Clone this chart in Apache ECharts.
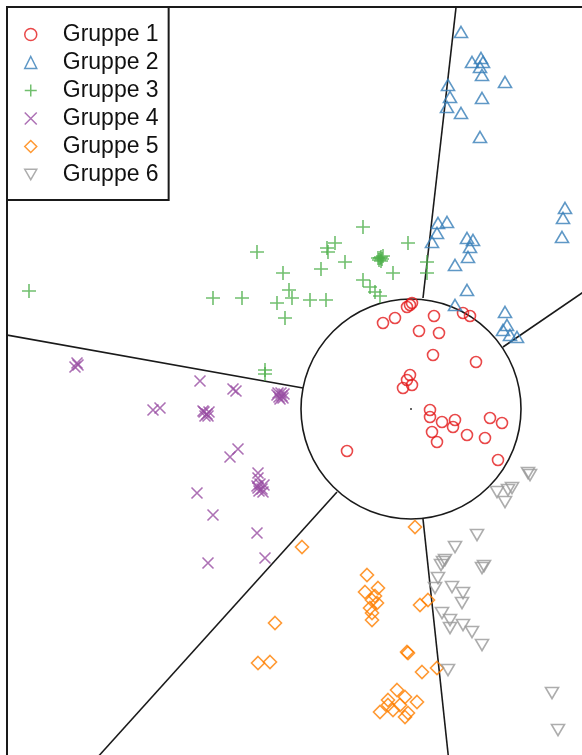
<!DOCTYPE html>
<html>
<head>
<meta charset="utf-8">
<script src="https://cdn.jsdelivr.net/npm/echarts@6/dist/echarts.min.js"></script>
<style>
  html, body { margin: 0; padding: 0; background: #fff; overflow: hidden; }
  #chart { width: 620px; height: 820px; }
</style>
</head>
<body>
<div id="chart"></div>
<script>
// Group labels
const groupNames = ['Gruppe 1', 'Gruppe 2', 'Gruppe 3', 'Gruppe 4', 'Gruppe 5', 'Gruppe 6'];

// Scores per group (x, y)
const gruppe1 = [
  [-0.01, 1.04], [-0.04, 1.02], [0.01, 1.06], [-0.28, 0.86], [-0.16, 0.91], [0.23, 0.93],
  [0.08, 0.78], [0.28, 0.76], [0.52, 0.96], [0.59, 0.93], [0.22, 0.54], [0.65, 0.47],
  [-0.01, 0.34], [-0.04, 0.29], [0.01, 0.24], [-0.08, 0.21], [0.19, -0.01], [0.19, -0.08],
  [0.31, -0.13], [0.21, -0.23], [0.26, -0.33], [0.44, -0.11], [0.42, -0.18], [0.56, -0.26],
  [0.74, -0.29], [0.79, -0.09], [0.91, -0.14], [0.87, -0.51], [-0.64, -0.42]
];
const gruppe2 = [
  [0.50, 3.77], [0.61, 3.47], [0.70, 3.51], [0.72, 3.47], [0.69, 3.42], [0.71, 3.34],
  [0.94, 3.27], [0.37, 3.24], [0.39, 3.12], [0.71, 3.11], [0.36, 3.02], [0.50, 2.96],
  [0.69, 2.72], [1.54, 2.01], [1.52, 1.91], [1.51, 1.72], [0.27, 1.86], [0.36, 1.87],
  [0.26, 1.76], [0.21, 1.67], [0.56, 1.71], [0.62, 1.69], [0.59, 1.62], [0.57, 1.52],
  [0.44, 1.44], [0.56, 1.19], [0.44, 1.04], [0.94, 0.97], [0.96, 0.84], [0.92, 0.79],
  [1.06, 0.72], [0.99, 0.74]
];
const gruppe3 = [
  [-3.82, 1.18], [-0.48, 1.82], [-1.54, 1.57], [-0.76, 1.66], [-0.84, 1.61], [-0.83, 1.57],
  [-0.66, 1.47], [-0.90, 1.40], [-0.31, 1.51], [-0.29, 1.50], [-0.32, 1.49], [-0.30, 1.52],
  [-0.28, 1.53], [-0.33, 1.51], [-0.30, 1.48],
  [-0.03, 1.66], [-0.18, 1.36], [0.16, 1.47], [0.16, 1.36], [-1.28, 1.36], [-1.22, 1.19],
  [-1.19, 1.11], [-1.34, 1.06], [-1.98, 1.11], [-1.69, 1.11], [-1.01, 1.09], [-0.85, 1.09],
  [-0.48, 1.29], [-0.41, 1.22], [-0.36, 1.17], [-0.31, 1.13], [-1.26, 0.91], [-1.46, 0.39],
  [-1.46, 0.35]
];
const gruppe4 = [
  [-3.34, 0.46], [-3.36, 0.42], [-3.33, 0.44], [-2.11, 0.28], [-1.78, 0.20], [-1.75, 0.18],
  [-1.33, 0.16], [-1.29, 0.13], [-1.31, 0.10], [-1.27, 0.15], [-1.32, 0.12],
  [-1.28, 0.11], [-1.34, 0.14], [-1.30, 0.16], [-2.58, -0.01],
  [-2.51, 0.01], [-2.08, -0.02], [-2.04, -0.05], [-2.06, -0.07], [-2.02, -0.03],
  [-2.07, -0.03], [-2.03, -0.07], [-1.81, -0.48],
  [-1.73, -0.40], [-1.53, -0.64], [-1.53, -0.69], [-1.54, -0.77], [-1.49, -0.80], [-1.52, -0.82],
  [-1.47, -0.76], [-1.51, -0.75], [-1.48, -0.83], [-1.53, -0.79],
  [-2.14, -0.84], [-1.98, -1.06], [-1.54, -1.24], [-2.03, -1.54], [-1.46, -1.49]
];
const gruppe5 = [
  [0.04, -1.18], [-1.09, -1.38], [-0.44, -1.66], [-0.33, -1.79], [-0.46, -1.83], [-0.39, -1.91],
  [-0.34, -1.94], [-0.41, -1.99], [-0.39, -2.04], [-0.39, -2.11], [-0.36, -1.87], [0.09, -1.96],
  [0.17, -1.91], [-1.36, -2.14], [-1.53, -2.54], [-1.41, -2.53], [-0.03, -2.44], [-0.04, -2.43],
  [0.11, -2.63], [0.26, -2.59], [-0.14, -2.81], [-0.06, -2.88], [0.06, -2.93], [-0.23, -2.91],
  [-0.11, -2.96], [-0.31, -3.03], [-0.18, -3.01], [-0.03, -3.04], [-0.23, -2.96], [-0.06, -3.08]
];
const gruppe6 = [
  [1.19, -0.66], [1.17, -0.64], [0.86, -0.83], [0.97, -0.81], [1.01, -0.79], [0.94, -0.93],
  [0.66, -1.26], [0.44, -1.38], [0.32, -1.53], [0.34, -1.51], [0.30, -1.56], [0.71, -1.59],
  [0.73, -1.57], [0.27, -1.69], [0.24, -1.79], [0.41, -1.78], [0.52, -1.84], [0.51, -1.94],
  [0.31, -2.04], [0.39, -2.11], [0.39, -2.19], [0.52, -2.16], [0.61, -2.23], [0.71, -2.36],
  [0.37, -2.61], [1.41, -2.84], [1.47, -3.21]
];

// Territory boundaries: central circle and radial segments
const circleCenter = [0, 0];
const circleRadius = 1.10;
const boundarySegments = [
  [[0.12, 1.11], [0.47, 4.19]],
  [[0.92, 0.62], [2.09, 1.42]],
  [[-1.08, 0.21], [-4.21, 0.77]],
  [[-0.74, -0.83], [-3.52, -3.91]],
  [[0.12, -1.10], [0.42, -3.91]]
];

const colors = ['#E41A1C', '#377EB8', '#4DAF4A', '#984EA3', '#FF7F00', '#999999'];
const symbols = [
  'circle',
  'triangle',
  'path://M0,5L10,5M5,0L5,10',
  'path://M0,0L10,10M10,0L0,10',
  'diamond',
  'path://M0,0L10,0L5,8.66Z'
];
const symbolSizes = [11, [13, 11], 14, 11, 13, [13, 11]];
const groups = [gruppe1, gruppe2, gruppe3, gruppe4, gruppe5, gruppe6];

const chart = echarts.init(document.getElementById('chart'), null, { renderer: 'canvas' });

const scatterSeries = groups.map((g, i) => ({
  name: groupNames[i],
  type: 'scatter',
  data: g,
  symbol: symbols[i],
  symbolSize: symbolSizes[i],
  z: 3,
  itemStyle: {
    color: 'rgba(255,255,255,0)',
    borderColor: colors[i],
    borderWidth: 1.6
  },
  emphasis: { disabled: true }
}));

const option = {
  animation: false,
  backgroundColor: '#fff',
  grid: {
    left: 7, top: 7, width: 600, height: 800,
    show: true, borderColor: '#1a1a1a', borderWidth: 2, backgroundColor: '#fff'
  },
  xAxis: {
    type: 'value', min: -4.04, max: 1.96,
    axisLine: { show: false }, axisTick: { show: false },
    axisLabel: { show: false }, splitLine: { show: false }
  },
  yAxis: {
    type: 'value', min: -3.98, max: 4.02,
    axisLine: { show: false }, axisTick: { show: false },
    axisLabel: { show: false }, splitLine: { show: false }
  },
  legend: {
    left: 7, top: 7,
    orient: 'vertical',
    backgroundColor: '#fff',
    borderColor: '#1a1a1a', borderWidth: 2, borderRadius: 0,
    padding: [16, 10, 14, 17],
    itemWidth: 12, itemHeight: 12, itemGap: 5,
    itemStyle: { borderWidth: 1.5 },
    textStyle: {
      fontFamily: 'Liberation Sans, Arial, sans-serif',
      fontSize: 23, lineHeight: 22, color: '#111',
      padding: [0, 0, 0, 21]
    },
    data: groupNames,
    selectedMode: false
  },
  series: [
    {
      type: 'custom',
      name: 'circle',
      data: [[circleCenter[0], circleCenter[1], circleRadius]],
      z: 2,
      silent: true,
      renderItem: function (params, api) {
        const c = api.coord([api.value(0), api.value(1)]);
        const s = api.size([api.value(2), api.value(2)]);
        return {
          type: 'circle',
          shape: { cx: c[0], cy: c[1], r: s[0] },
          style: { fill: null, stroke: '#1a1a1a', lineWidth: 1.6 }
        };
      }
    },
    {
      type: 'lines',
      coordinateSystem: 'cartesian2d',
      data: boundarySegments.map(s => ({ coords: s })),
      lineStyle: { color: '#1a1a1a', width: 1.6, opacity: 1 },
      z: 2,
      silent: true
    },
    {
      type: 'scatter',
      data: [circleCenter],
      symbol: 'circle',
      symbolSize: 2,
      itemStyle: { color: '#000' },
      z: 2,
      silent: true
    }
  ].concat(scatterSeries)
};

chart.setOption(option);
</script>
</body>
</html>
